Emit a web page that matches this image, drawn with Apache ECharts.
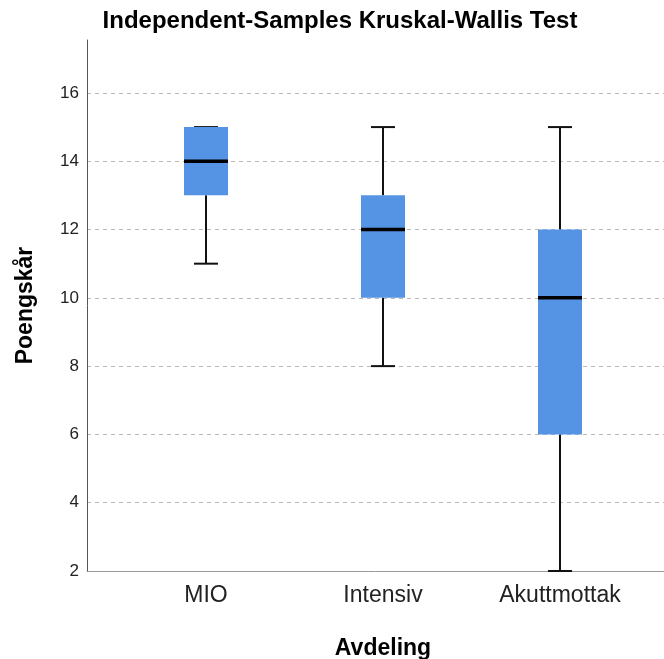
<!DOCTYPE html>
<html>
<head>
<meta charset="utf-8">
<script src="https://cdn.jsdelivr.net/npm/echarts@6/dist/echarts.min.js"></script>
<style>
html,body{margin:0;padding:0;background:#fff;}
#chart{width:664px;height:659px;}
</style>
</head>
<body>
<div id="chart"></div>
<script>
const categories = ['MIO', 'Intensiv', 'Akuttmottak'];
const minVals    = [11, 8, 2];
const q1Vals     = [13, 10, 6];
const medianVals = [14, 12, 10];
const q3Vals     = [15, 13, 12];
const maxVals    = [15, 15, 15];
const yTickMin = 2;
const yTickStep = 2;
const yAxisMax = 17.55;
const titleText = 'Independent-Samples Kruskal-Wallis Test';
const xAxisName = 'Avdeling';
const yAxisName = 'Poengskår';

const FONT = 'Liberation Sans, Arial, sans-serif';
const boxData = categories.map((c, i) => [i, minVals[i], q1Vals[i], medianVals[i], q3Vals[i], maxVals[i]]);

function renderBox(params, api) {
  const idx = api.value(0);
  const pMin = api.coord([idx, api.value(1)]);
  const pQ1 = api.coord([idx, api.value(2)]);
  const pMed = api.coord([idx, api.value(3)]);
  const pQ3 = api.coord([idx, api.value(4)]);
  const pMax = api.coord([idx, api.value(5)]);
  const cx = pMed[0];
  const hw = 22, cw = 12;
  const lineStyle = {stroke: '#111', lineWidth: 2};
  return {
    type: 'group',
    children: [
      {type: 'line', shape: {x1: cx, y1: pQ1[1], x2: cx, y2: pMin[1]}, style: lineStyle},
      {type: 'line', shape: {x1: cx, y1: pQ3[1], x2: cx, y2: pMax[1]}, style: lineStyle},
      {type: 'line', shape: {x1: cx - cw, y1: pMin[1], x2: cx + cw, y2: pMin[1]}, style: lineStyle},
      {type: 'line', shape: {x1: cx - cw, y1: pMax[1], x2: cx + cw, y2: pMax[1]}, style: lineStyle},
      {type: 'rect', shape: {x: cx - hw, y: pQ3[1], width: 2 * hw, height: pQ1[1] - pQ3[1]}, style: {fill: '#5594E4'}},
      {type: 'line', shape: {x1: cx - hw, y1: pMed[1], x2: cx + hw, y2: pMed[1]}, style: {stroke: '#000', lineWidth: 3.5}}
    ]
  };
}

const chart = echarts.init(document.getElementById('chart'), null, {renderer: 'canvas'});
chart.setOption({
  animation: false,
  backgroundColor: '#fff',
  textStyle: {fontFamily: FONT},
  graphic: [{
    type: 'text', x: 340, y: 21,
    style: {text: titleText, fontSize: 24, fontWeight: 'bold', fontFamily: FONT, fill: '#000', textAlign: 'center', textVerticalAlign: 'middle'}
  }],
  grid: [
    {left: 87, right: 0, top: 40, bottom: 88, containLabel: false, outerBoundsMode: 'none'},
    {left: 117.5, right: 15.5, top: 40, bottom: 88, containLabel: false, outerBoundsMode: 'none'}
  ],
  xAxis: [
    {gridIndex: 0, type: 'value', min: 0, max: 1,
     axisLine: {show: true, onZero: false, lineStyle: {color: '#999', width: 1}},
     axisTick: {show: false}, axisLabel: {show: false}, splitLine: {show: false}},
    {gridIndex: 1, type: 'category', data: categories,
     axisLine: {show: false}, axisTick: {show: false},
     axisLabel: {fontSize: 23, color: '#222', margin: 13, fontFamily: FONT},
     name: xAxisName, nameLocation: 'middle', nameGap: 66,
     nameTextStyle: {fontSize: 23, fontWeight: 'bold', color: '#000', fontFamily: FONT}}
  ],
  yAxis: [
    {gridIndex: 0, type: 'value', min: yTickMin, max: yAxisMax, interval: yTickStep,
     axisLine: {show: true, lineStyle: {color: '#555', width: 1}},
     axisTick: {show: false},
     axisLabel: {fontSize: 17, color: '#222', margin: 8, fontFamily: FONT, showMaxLabel: false,
                 formatter: v => ((v - yTickMin) % yTickStep === 0 ? String(v) : '')},
     splitLine: {show: true, showMinLine: false, showMaxLine: false, lineStyle: {type: [4, 4], color: '#bbb', width: 1}},
     name: yAxisName, nameLocation: 'middle', nameGap: 50, nameRotate: 90,
     nameTextStyle: {fontSize: 23, fontWeight: 'bold', color: '#000', fontFamily: FONT}},
    {gridIndex: 1, type: 'value', min: yTickMin, max: yAxisMax, show: false, splitLine: {show: false}}
  ],
  series: [{
    type: 'custom', xAxisIndex: 1, yAxisIndex: 1,
    encode: {x: 0, y: [1, 2, 3, 4, 5]},
    renderItem: renderBox,
    data: boxData
  }]
});
</script>
</body>
</html>
